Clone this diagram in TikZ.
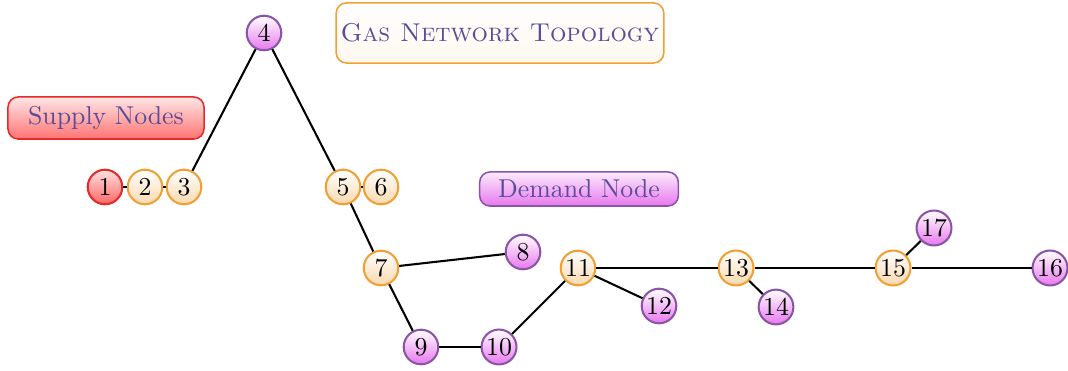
\documentclass[tikz,border=0pt]{standalone}
\usetikzlibrary{shadings}
\definecolor{supred}{HTML}{E52A2A}
\definecolor{orng}{HTML}{F0A035}
\definecolor{purp}{HTML}{8A55A8}
\definecolor{magfill}{HTML}{E878EE}
\definecolor{labtext}{HTML}{5A4C96}
\tikzset{
  nd/.style={circle, line width=0.8pt, minimum size=13.4pt, inner sep=0.5pt, font=\normalsize},
  supplynd/.style={nd, draw=supred, top color=red!12, bottom color=red!60},
  transnd/.style={nd, draw=orng, top color=white, bottom color=orng!40},
  demandnd/.style={nd, draw=purp, top color=white, bottom color=magfill},
  pipe/.style={line width=0.8pt, black},
  labbox/.style={rounded corners=4pt, line width=0.6pt, text=labtext, inner sep=0pt},
}
\begin{document}
\begin{tikzpicture}[x=0.3876pt, y=-0.3876pt]
\useasboundingbox (0,0) rectangle (1068,371);
% labels
\node[labbox, draw=supred, top color=red!10, bottom color=red!55, minimum width=76pt, minimum height=16.3pt] (supply) at (106,118) {Supply Nodes};
\node[labbox, draw=orng, fill=white, top color=white, bottom color=orng!8, minimum width=127pt, minimum height=23.3pt] (title) at (500,33) {\textsc{Gas Network Topology}};
\node[labbox, draw=purp, top color=magfill!15, bottom color=magfill, minimum width=77pt, minimum height=13.2pt] (demand) at (579,189) {Demand Node};
% nodes
\node[supplynd] (n1) at (105,187) {1};
\node[transnd] (n2) at (145,187) {2};
\node[transnd] (n3) at (184,187) {3};
\node[demandnd] (n4) at (264,33) {4};
\node[transnd] (n5) at (343,187) {5};
\node[transnd] (n6) at (381,187) {6};
\node[transnd] (n7) at (381,268) {7};
\node[demandnd] (n8) at (523,252) {8};
\node[demandnd] (n9) at (421,347) {9};
\node[demandnd] (n10) at (499,347) {10};
\node[transnd] (n11) at (578,268) {11};
\node[demandnd] (n12) at (659,306) {12};
\node[transnd] (n13) at (736,268) {13};
\node[demandnd] (n14) at (776,307) {14};
\node[transnd] (n15) at (893,268) {15};
\node[demandnd] (n16) at (1050,268) {16};
\node[demandnd] (n17) at (934,228) {17};
% pipes
\begin{scope}[on background layer/.style={}]
\draw[pipe] (n1) -- (n2);
\draw[pipe] (n2) -- (n3);
\draw[pipe] (n3) -- (n4);
\draw[pipe] (n4) -- (n5);
\draw[pipe] (n5) -- (n6);
\draw[pipe] (n5) -- (n7);
\draw[pipe] (n7) -- (n8);
\draw[pipe] (n7) -- (n9);
\draw[pipe] (n9) -- (n10);
\draw[pipe] (n10) -- (n11);
\draw[pipe] (n11) -- (n12);
\draw[pipe] (n11) -- (n13);
\draw[pipe] (n13) -- (n14);
\draw[pipe] (n13) -- (n15);
\draw[pipe] (n15) -- (n16);
\draw[pipe] (n15) -- (n17);
\end{scope}
\end{tikzpicture}
\end{document}
